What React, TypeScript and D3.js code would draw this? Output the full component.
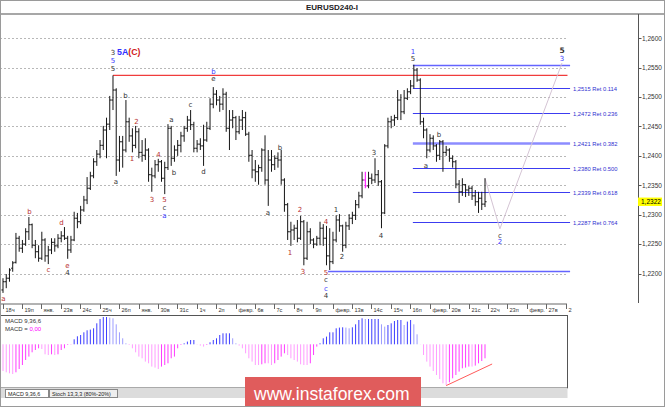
import React from "react";
import * as d3 from "d3";

// H4 bars: [open, high, low, close]
const priceBars: [number, number, number, number][] = [
  [1.2172, 1.2192, 1.2167, 1.2186], [1.2186, 1.2199, 1.2175, 1.2192], [1.2192, 1.2209, 1.2186, 1.2206],
  [1.2209, 1.2221, 1.2203, 1.2218], [1.2219, 1.2269, 1.2217, 1.226], [1.226, 1.2264, 1.2237, 1.2243],
  [1.2243, 1.2257, 1.2235, 1.225], [1.225, 1.2277, 1.2247, 1.2271], [1.2271, 1.2296, 1.2257, 1.2283],
  [1.2283, 1.2285, 1.2243, 1.2248], [1.2248, 1.2257, 1.2226, 1.2237], [1.2237, 1.2248, 1.222, 1.2226],
  [1.2226, 1.2271, 1.2223, 1.2257], [1.2257, 1.226, 1.222, 1.223], [1.223, 1.2247, 1.2216, 1.224],
  [1.224, 1.226, 1.2233, 1.2253], [1.2253, 1.226, 1.2237, 1.2247], [1.2247, 1.2267, 1.2243, 1.226],
  [1.226, 1.2272, 1.2253, 1.2264], [1.2264, 1.2279, 1.2257, 1.226], [1.226, 1.2264, 1.2225, 1.224],
  [1.224, 1.2264, 1.2235, 1.2257], [1.2257, 1.2305, 1.2255, 1.2294], [1.2294, 1.2303, 1.2277, 1.2288],
  [1.2288, 1.2315, 1.2284, 1.2308], [1.2308, 1.2332, 1.2305, 1.2325], [1.2325, 1.2364, 1.2318, 1.2345],
  [1.2345, 1.2373, 1.2342, 1.2366], [1.2366, 1.2396, 1.2362, 1.239], [1.239, 1.241, 1.2383, 1.2403],
  [1.2403, 1.2427, 1.2396, 1.2418], [1.2418, 1.2451, 1.241, 1.2444], [1.2444, 1.2465, 1.2396, 1.2454],
  [1.2454, 1.2502, 1.2444, 1.2495], [1.2495, 1.2537, 1.2478, 1.2512], [1.2512, 1.2515, 1.2366, 1.2393],
  [1.2393, 1.2434, 1.2373, 1.2424], [1.2424, 1.2434, 1.238, 1.241], [1.241, 1.2495, 1.2406, 1.2458],
  [1.2458, 1.2465, 1.2424, 1.2434], [1.2434, 1.2447, 1.2406, 1.2418], [1.2418, 1.2451, 1.2413, 1.2441],
  [1.2441, 1.2447, 1.2396, 1.2406], [1.2406, 1.2427, 1.239, 1.2401], [1.2401, 1.243, 1.2393, 1.241],
  [1.241, 1.2413, 1.2356, 1.2368], [1.2368, 1.238, 1.2339, 1.2366], [1.2366, 1.2393, 1.2362, 1.2385],
  [1.2385, 1.2395, 1.2373, 1.239], [1.239, 1.2393, 1.2356, 1.2362], [1.2362, 1.239, 1.2335, 1.238],
  [1.238, 1.2454, 1.2376, 1.2447], [1.2447, 1.2451, 1.2383, 1.2396], [1.2396, 1.2418, 1.239, 1.241],
  [1.241, 1.2427, 1.24, 1.2418], [1.2418, 1.2441, 1.2406, 1.2434], [1.2434, 1.2451, 1.2424, 1.2447],
  [1.2447, 1.2468, 1.2441, 1.2461], [1.2461, 1.2478, 1.2444, 1.2453], [1.2453, 1.2458, 1.2406, 1.2413],
  [1.2413, 1.2427, 1.2406, 1.242], [1.242, 1.243, 1.241, 1.2417], [1.2417, 1.2453, 1.2383, 1.2427],
  [1.2427, 1.2458, 1.2424, 1.2447], [1.2447, 1.2498, 1.2444, 1.2488], [1.2488, 1.2517, 1.2481, 1.2505],
  [1.2505, 1.2512, 1.2486, 1.2495], [1.2495, 1.2502, 1.2475, 1.2488], [1.2488, 1.2515, 1.2478, 1.2505],
  [1.2505, 1.2509, 1.2441, 1.2447], [1.2447, 1.2478, 1.241, 1.2461], [1.2461, 1.2478, 1.2447, 1.2465],
  [1.2465, 1.2468, 1.2427, 1.2441], [1.2441, 1.2468, 1.2437, 1.2461], [1.2461, 1.2478, 1.2444, 1.2465],
  [1.2465, 1.2475, 1.2434, 1.2437], [1.2437, 1.2441, 1.239, 1.2401], [1.2401, 1.241, 1.2362, 1.2376],
  [1.2376, 1.2393, 1.2356, 1.2373], [1.2373, 1.2385, 1.2351, 1.238], [1.238, 1.2413, 1.2373, 1.241],
  [1.241, 1.2435, 1.2351, 1.2359], [1.2359, 1.241, 1.2315, 1.2393], [1.2393, 1.241, 1.2373, 1.2385],
  [1.2385, 1.2401, 1.2376, 1.2396], [1.2396, 1.2406, 1.238, 1.2393], [1.2393, 1.241, 1.2351, 1.2359],
  [1.2359, 1.2362, 1.2305, 1.2317], [1.2317, 1.232, 1.2257, 1.2271], [1.2271, 1.2288, 1.2247, 1.2274],
  [1.2274, 1.2283, 1.2257, 1.2277], [1.2277, 1.2291, 1.2253, 1.226], [1.226, 1.2298, 1.2257, 1.2288],
  [1.2288, 1.2291, 1.2214, 1.2226], [1.2226, 1.2288, 1.2223, 1.2271], [1.2271, 1.2277, 1.225, 1.2257],
  [1.2257, 1.226, 1.2243, 1.225], [1.225, 1.2264, 1.2247, 1.226], [1.226, 1.2288, 1.2248, 1.2277],
  [1.2277, 1.2284, 1.2247, 1.226], [1.226, 1.2281, 1.2214, 1.223], [1.223, 1.2277, 1.2206, 1.222],
  [1.222, 1.2271, 1.2216, 1.2257], [1.2257, 1.2299, 1.2253, 1.2291], [1.2291, 1.2301, 1.2271, 1.2281],
  [1.2281, 1.2283, 1.2237, 1.2248], [1.2248, 1.2288, 1.2243, 1.2281], [1.2281, 1.2301, 1.2274, 1.2294],
  [1.2294, 1.2305, 1.2284, 1.2299], [1.2299, 1.2325, 1.2291, 1.2317], [1.2317, 1.2339, 1.2311, 1.2332],
  [1.2332, 1.2373, 1.2328, 1.2359], [1.2359, 1.2373, 1.2345, 1.2349], [1.2349, 1.2373, 1.2345, 1.2362],
  [1.2362, 1.237, 1.2352, 1.2359], [1.2359, 1.2396, 1.2354, 1.2368], [1.2368, 1.2376, 1.2349, 1.2356],
  [1.2356, 1.2359, 1.2277, 1.2303], [1.2303, 1.242, 1.2301, 1.2417], [1.2417, 1.2465, 1.2413, 1.2458],
  [1.2458, 1.2468, 1.2447, 1.2461], [1.2461, 1.247, 1.2451, 1.2465], [1.2465, 1.2512, 1.2461, 1.2495],
  [1.2495, 1.2505, 1.2461, 1.2475], [1.2475, 1.2512, 1.2471, 1.2498], [1.2498, 1.2515, 1.2495, 1.2509],
  [1.2509, 1.2529, 1.2505, 1.2519], [1.2519, 1.2555, 1.2515, 1.2546], [1.2546, 1.2549, 1.2526, 1.2529],
  [1.2529, 1.2532, 1.2453, 1.2458], [1.2458, 1.2465, 1.243, 1.2444], [1.2444, 1.2447, 1.2396, 1.241],
  [1.241, 1.2437, 1.2406, 1.243], [1.243, 1.2435, 1.241, 1.2417], [1.2417, 1.242, 1.239, 1.2401],
  [1.2401, 1.2427, 1.2393, 1.2424], [1.2424, 1.2427, 1.2373, 1.2406], [1.2406, 1.2417, 1.24, 1.241],
  [1.241, 1.2413, 1.239, 1.2396], [1.2396, 1.2401, 1.238, 1.239], [1.239, 1.2393, 1.2345, 1.2352],
  [1.2352, 1.2359, 1.232, 1.2339], [1.2339, 1.2362, 1.2332, 1.2351], [1.2351, 1.2352, 1.233, 1.2342],
  [1.2342, 1.2349, 1.2332, 1.2345], [1.2345, 1.2349, 1.2325, 1.2332], [1.2332, 1.2342, 1.2315, 1.2322],
  [1.2322, 1.2339, 1.2303, 1.2328], [1.2328, 1.2339, 1.2308, 1.2318], [1.2318, 1.2362, 1.2313, 1.2322],
];

const macdHist: number[] = [
  -0.00267, -0.0028, -0.0029, -0.00297, -0.0028, -0.00247, -0.00207, -0.00157, -0.00123, -0.0008,
  -0.00057, -0.0004, -0.00047, -0.001, -0.00107, -0.001, -0.00107, -0.001, -0.00057, -0.0004,
  -0.00007, -0.00003, 0.0005, 0.0008, 0.00093, 0.0012, 0.0014, 0.00147, 0.0016, 0.0021,
  0.00253, 0.00273, 0.00273, 0.00267, 0.0026, 0.002, 0.0012, 0.0006, 0.0001, -0.00007,
  -0.0004, -0.0008, -0.00123, -0.0014, -0.00173, -0.0019, -0.00223, -0.00233, -0.00247, -0.00223,
  -0.00207, -0.0019, -0.0014, -0.00123, -0.0004, -0.00007, 0.0001, 0.00027, 0.00043, 0.00043,
  -0.00003, -0.00013, -0.00023, -0.00007, 0.0002, 0.00043, 0.0006, 0.00093, 0.0011, 0.0011,
  0.0011, 0.0006, 0.0001, -0.00013, -0.0004, -0.0009, -0.0014, -0.00173, -0.00207, -0.00207,
  -0.002, -0.0019, -0.0019, -0.00207, -0.0019, -0.00157, -0.00123, -0.0009, -0.00107, -0.0014,
  -0.00157, -0.00173, -0.002, -0.00207, -0.00207, -0.0019, -0.00107, -0.00023, 0.0001, 0.0006,
  0.00077, 0.0012, 0.0012, 0.0016, 0.00167, 0.0017, 0.00167, 0.0016, 0.0017, 0.002,
  0.00243, 0.0026, 0.00253, 0.00253, 0.00253, 0.00253, 0.00253, 0.002, 0.00177, 0.00193,
  0.0021, 0.00233, 0.00243, 0.00243, 0.00193, 0.00227, 0.00243, 0.002, 0.001, -0.00002,
  -0.00107, -0.00173, -0.00223, -0.00267, -0.00307, -0.00347, -0.0039, -0.00407, -0.0038, -0.0034,
  -0.00307, -0.00273, -0.0024, -0.00233, -0.00223, -0.00223, -0.00213, -0.0019, -0.00167, -0.0014,
];

const dayLabels: string[] = [
  "18ч", "19п", "янв.", "23в", "24с", "25ч", "26п", "янв.", "30в", "31с", "1ч", "2п", "февр.", "6в", "7с",
  "8ч", "9п", "февр.", "13в", "14с", "15ч", "16п", "февр.", "20в", "21с", "22ч", "23п", "февр.", "27в", "2",
];

const priceTicks: number[] = [1.22, 1.225, 1.23, 1.235, 1.24, 1.245, 1.25, 1.255, 1.26];
const priceTickLabels: string[] = ["1,2200", "1,2250", "1,2300", "1,2350", "1,2400", "1,2450", "1,2500", "1,2550", "1,2600"];

const fibHigh = 1.2555;
const fibLow = 1.2205;
const fibRatios: number[] = [0.114, 0.236, 0.382, 0.5, 0.618, 0.764];
const fibPriceLabels: string[] = ["1,2515", "1,2472", "1,2421", "1,2380", "1,2339", "1,2287"];
const resistancePrice = 1.2537;
const lastPrice = 1.2322;
const lastPriceLabel = "1,2322";
const highlightBar = 112;

type Wave = { i: number; p: number; t: string; c: "d" | "r" | "b"; bold?: boolean };
const waveLabels: Wave[] = [
  { i: 34, p: 1.2576, t: "3", c: "d" }, { i: 34, p: 1.2563, t: "5", c: "b" }, { i: 34, p: 1.2548, t: "5", c: "d" },
  { i: 37.87, p: 1.2503, t: "b", c: "d" }, { i: 41.27, p: 1.2458, t: "2", c: "r" }, { i: 52.09, p: 1.2461, t: "a", c: "d" },
  { i: 57.96, p: 1.2487, t: "c", c: "d" }, { i: 65.07, p: 1.2544, t: "b", c: "b" }, { i: 65.07, p: 1.2531, t: "e", c: "d" },
  { i: 39.88, p: 1.2395, t: "1", c: "r" }, { i: 48.07, p: 1.2403, t: "4", c: "r" }, { i: 46.06, p: 1.2325, t: "3", c: "r" },
  { i: 49.92, p: 1.2325, t: "5", c: "r" }, { i: 49.92, p: 1.2313, t: "c", c: "d" }, { i: 49.92, p: 1.2299, t: "a", c: "b" },
  { i: 34.93, p: 1.2356, t: "a", c: "d" }, { i: 52.86, p: 1.2371, t: "b", c: "d" }, { i: 61.98, p: 1.2373, t: "d", c: "d" },
  { i: 8.19, p: 1.2306, t: "b", c: "r" }, { i: 18.08, p: 1.2286, t: "d", c: "r" }, { i: 14.06, p: 1.2206, t: "c", c: "r" },
  { i: 19.94, p: 1.2214, t: "e", c: "r" }, { i: 19.94, p: 1.2201, t: "4", c: "d" }, { i: 0.15, p: 1.2157, t: "a", c: "r" },
  { i: 85.63, p: 1.2415, t: "b", c: "d" }, { i: 81.92, p: 1.2303, t: "a", c: "d" }, { i: 91.81, p: 1.2308, t: "2", c: "r" },
  { i: 88.72, p: 1.2235, t: "1", c: "r" }, { i: 92.74, p: 1.2204, t: "3", c: "r" }, { i: 99.85, p: 1.2289, t: "4", c: "r" },
  { i: 99.85, p: 1.2201, t: "5", c: "r" }, { i: 99.85, p: 1.2189, t: "c", c: "d" }, { i: 99.85, p: 1.2174, t: "c", c: "b" },
  { i: 99.85, p: 1.2163, t: "4", c: "d" }, { i: 102.94, p: 1.2308, t: "1", c: "d" }, { i: 104.79, p: 1.2228, t: "2", c: "d" },
  { i: 114.68, p: 1.2405, t: "3", c: "d" }, { i: 116.85, p: 1.2264, t: "4", c: "d" }, { i: 130.76, p: 1.2384, t: "a", c: "d" },
  { i: 134.78, p: 1.2437, t: "b", c: "d" }, { i: 126.74, p: 1.2578, t: "1", c: "b" }, { i: 126.74, p: 1.2565, t: "5", c: "d" },
  { i: 172.8, p: 1.258, t: "5", c: "d", bold: true }, { i: 172.8, p: 1.2566, t: "3", c: "b" },
  { i: 153.63, p: 1.2265, t: "c", c: "d" }, { i: 153.63, p: 1.2254, t: "2", c: "b" },
];
const titleWave = { i: 35.24, p: 1.2577 };

const projection: [number, number][] = [[149, 1.2362], [153.6, 1.2276], [172.8, 1.2558]];
const macdTrend: [number, number][] = [[137, -0.00413], [151.2, -0.00197]];

const W = 665;
const H = 407;
const waveColor = { d: "#333333", r: "#b83030", b: "#3a3aff" };

export default function App() {
  const x = d3.scaleLinear().domain([0, 149]).range([3, 485]);
  const y = d3.scaleLinear().domain([1.22, 1.26]).range([273.5, 38.3]);
  const ym = d3.scaleLinear().domain([-0.00437, 0.00283]).range([388, 316]);
  const crisp = (v: number) => Math.round(v) + 0.5;
  const gridRight = 567;
  const axisX = 638.5;
  const fibStart = x(126.7);
  const fibEnd = x(175.3);
  const labelFont = "'Liberation Sans', Arial, sans-serif";
  const waveFont = "'DejaVu Sans', Verdana, sans-serif";

  const barPath = priceBars
    .map(([o, h, l, c], i) => {
      if (i === highlightBar) return "";
      const xi = x(i);
      return `M${xi},${y(h)}V${y(l)}M${xi - 1.6},${y(o)}H${xi}M${xi},${y(c)}H${xi + 1.6}`;
    })
    .join("");
  const hb = priceBars[highlightBar];
  const hx = x(highlightBar);
  const hPath = `M${hx},${y(hb[1])}V${y(hb[2])}M${hx - 1.6},${y(hb[0])}H${hx}M${hx},${y(hb[3])}H${hx + 1.6}`;

  const projLine = d3.line<[number, number]>().x((d) => x(d[0])).y((d) => y(d[1]))(projection) || "";
  const trendLine = d3.line<[number, number]>().x((d) => x(d[0])).y((d) => ym(d[1]))(macdTrend) || "";

  const macdColor = (v: number, i: number) => {
    const prev = i > 0 ? macdHist[i - 1] : v;
    if (v >= 0) return v >= prev ? "#3c3cff" : "#9c9cff";
    return v <= prev ? "#ff9cff" : "#ff3cff";
  };

  return (
    <svg width={W} height={H} style={{ position: "absolute", left: 0, top: 0, background: "#fff" }}>
      <rect x={0} y={0} width={W} height={H} fill="#fff" />
      {/* title */}
      <text x={332} y={9.5} textAnchor="middle" fontSize={8} fontWeight="bold" fontFamily={labelFont} fill="#222">
        EURUSD240-I
      </text>
      <line x1={0} x2={W} y1={14} y2={14} stroke="#8a8a8a" strokeWidth={1.6} />

      {/* grid */}
      {priceTicks.map((t) => (
        <line key={t} x1={0} x2={gridRight} y1={crisp(y(t))} y2={crisp(y(t))} stroke="#b8b8b8" strokeWidth={1} strokeDasharray="2 2" />
      ))}

      {/* resistance red line */}
      <line x1={x(34)} x2={x(174.5)} y1={y(resistancePrice)} y2={y(resistancePrice)} stroke="#f03c3c" strokeWidth={1.4} />

      {/* fibonacci */}
      <line x1={fibStart} x2={fibEnd} y1={crisp(y(fibHigh))} y2={crisp(y(fibHigh))} stroke="#6464ff" strokeWidth={1.3} />
      <line x1={x(100.5)} x2={fibEnd} y1={crisp(y(fibLow))} y2={crisp(y(fibLow))} stroke="#6464ff" strokeWidth={1.3} />
      {fibRatios.map((r, k) => {
        const p = fibHigh - r * (fibHigh - fibLow);
        const wide = r === 0.382;
        const ly = crisp(y(p));
        return (
          <g key={r}>
            <line x1={fibStart} x2={fibEnd} y1={ly} y2={ly} stroke={wide ? "#8c8cff" : "#3c3cf0"} strokeWidth={wide ? 2.4 : 1.2} />
            <text x={x(176.2)} y={ly + 2} fontSize={5.8} fontFamily={labelFont} fill="#2f2fd0">
              {fibPriceLabels[k]} Ret {r.toFixed(3)}
            </text>
          </g>
        );
      })}

      {/* projection */}
      <path d={projLine} fill="none" stroke="#d4c4d4" strokeWidth={1} />

      {/* bars */}
      <path d={barPath} fill="none" stroke="#151515" strokeWidth={1} />
      <path d={hPath} fill="none" stroke="#ff00ff" strokeWidth={1} />

      {/* wave labels */}
      {waveLabels.map((w, k) => (
        <text
          key={k}
          x={x(w.i)}
          y={y(w.p)}
          dy="0.35em"
          textAnchor="middle"
          fontSize={w.bold ? 7.5 : 7}
          fontWeight={w.bold ? "bold" : "normal"}
          fontFamily={waveFont}
          fill={waveColor[w.c]}
        >
          {w.t}
        </text>
      ))}
      <text x={x(titleWave.i)} y={y(titleWave.p)} dy="0.35em" fontSize={8.8} fontWeight="bold" fontFamily={labelFont}>
        <tspan fill="#3030ff">5A</tspan>
        <tspan fill="#d02020">(C)</tspan>
      </text>

      {/* right price axis */}
      <line x1={axisX} x2={axisX} y1={14} y2={303} stroke="#555" strokeWidth={1} />
      {priceTicks.map((t, k) => (
        <g key={t}>
          <line x1={axisX} x2={axisX + 3} y1={crisp(y(t))} y2={crisp(y(t))} stroke="#555" />
          <text x={642} y={y(t) + 2.3} fontSize={6.5} fontFamily={labelFont} fill="#333">
            {priceTickLabels[k]}
          </text>
        </g>
      ))}
      <rect x={638} y={y(lastPrice) - 4.2} width={24} height={8.4} fill="#ffff00" />
      <text x={641} y={y(lastPrice) + 2.4} fontSize={6.5} fontFamily={labelFont} fill="#000">
        {lastPriceLabel}
      </text>

      {/* time axis */}
      <line x1={0} x2={gridRight} y1={304} y2={304} stroke="#666" strokeWidth={1} />
      {dayLabels.map((lab, d) => {
        const tx = Math.round(x(6 * d - 0.1)) + 0.5;
        return (
          <g key={d}>
            <line x1={tx} x2={tx} y1={304} y2={309} stroke="#666" strokeWidth={1} />
            <text x={tx + 2} y={311.5} fontSize={5.6} fontFamily={labelFont} fill="#333">
              {lab}
            </text>
          </g>
        );
      })}

      {/* MACD panel */}
      <rect x={0.5} y={315.5} width={567} height={72.5} fill="#fff" stroke="#555" strokeWidth={1} />
      {macdHist.map((v, i) => (
        <line key={i} x1={x(i)} x2={x(i)} y1={ym(0)} y2={ym(v)} stroke={macdColor(v, i)} strokeWidth={1} />
      ))}
      <path d={trendLine} fill="none" stroke="#ff5a5a" strokeWidth={1} />
      <text x={5} y={322.5} fontSize={6} fontFamily={labelFont} fill="#333">
        MACD 9,36,6
      </text>
      <text x={5} y={330.5} fontSize={6} fontFamily={labelFont} fill="#333">
        MACD = <tspan fill="#ff00ff">0,00</tspan>
      </text>

      {/* tabs */}
      <rect x={0.5} y={388} width={567} height={10} fill="#dcdcdc" />
      <rect x={5.5} y={389.5} width={43} height={8} fill="#fff" stroke="#888" />
      <text x={8} y={395.8} fontSize={5.4} fontFamily={labelFont} fill="#222">
        MACD 9,36,6
      </text>
      <rect x={49.5} y={389.5} width={68} height={8} fill="#eeeeee" stroke="#888" />
      <text x={52} y={395.8} fontSize={5.4} fontFamily={labelFont} fill="#222">
        Stoch 13,3,3 (80%-20%)
      </text>

      {/* watermark */}
      <rect x={245} y={377} width={176} height={30} fill="#e05c5c" />
      <text x={254} y={399.5} fontSize={17.5} fontFamily={labelFont} fill="#fff">
        www.instaforex.com
      </text>

      {/* frame */}
      <rect x={0.5} y={0.5} width={W - 1} height={H - 1} fill="none" stroke="#9a9a9a" />
    </svg>
  );
}
